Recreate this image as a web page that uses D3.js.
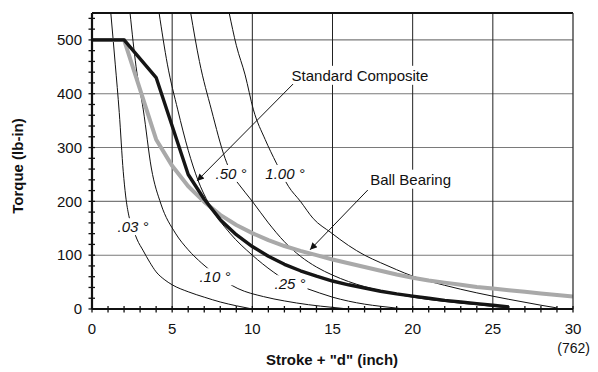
<!DOCTYPE html>
<html><head><meta charset="utf-8">
<script src="https://cdn.jsdelivr.net/npm/d3@7"></script>
<style>body{margin:0;background:#fff} text{font-family:Arial,"Liberation Sans",sans-serif;fill:#111}</style>
</head><body><svg id="c" width="598" height="372"></svg>
<script>
// ---- data ----
const xTicks = [0, 5, 10, 15, 20, 25, 30];
const yTicks = [0, 100, 200, 300, 400, 500];
const xExtraLabel = "(762)";

const compositeX = [0, 2, 4, 6, 7, 8, 9, 10, 11, 12, 13, 14, 15, 16, 17, 18, 19, 20, 21, 22, 23, 24, 25, 26];
const compositeY = [500, 500, 430, 250, 204, 166, 138, 116, 98, 83, 71, 61, 52, 45, 39, 33, 28, 24, 20, 16, 13, 10, 7, 4];

const bearingX = [0, 2, 4, 5, 6, 7, 8, 9, 10, 11, 12, 13, 14, 15, 16, 17, 18, 19, 20, 21, 22, 23, 24, 25, 26, 27, 28, 29, 30];
const bearingY = [500, 500, 315, 266, 228, 199, 175, 156, 141, 128, 117, 108, 100, 92, 85, 78, 71, 64, 58, 53, 49, 45, 41, 38, 35, 32, 29, 26, 23];

const deg03X = [1.17, 1.45, 1.7, 1.95, 2.1, 2.3, 2.55, 2.8, 3.2, 3.6, 4, 4.5, 5, 6, 7, 8, 9, 10];
const deg03Y = [551, 455, 365, 255, 210, 173, 150, 130, 108, 87, 69, 55, 45, 32, 22, 13, 6, 0];
const deg10X = [2.37, 2.75, 3.2, 3.7, 4.3, 5.2, 6, 6.85, 7.8, 9.1, 10.7, 12, 13.5, 15, 16];
const deg10Y = [551, 450, 370, 262, 195, 141, 110, 85, 62, 38, 23, 15, 8, 3, 0];
const deg25X = [4.18, 4.7, 5.35, 6, 6.6, 7.3, 8.6, 10, 11.3, 12.4, 13.4, 15, 17, 18, 19.5];
const deg25Y = [551, 455, 370, 295, 240, 195, 141, 100, 69, 48, 38, 22, 9, 5, 0];
const deg50X = [6.15, 6.7, 7.45, 8.3, 8.7, 9.15, 10, 11, 12, 13, 14, 15, 16, 18, 20, 22, 24, 26];
const deg50Y = [551, 460, 370, 280, 251, 232, 200, 160, 125, 98, 78, 63, 51, 34, 22, 14, 8, 2];
const deg100X = [8.55, 9.0, 9.55, 10.07, 10.8, 11.5, 12.25, 13, 13.8, 14.9, 16, 17, 18, 19, 20, 22, 24, 26, 28, 29];
const deg100Y = [551, 490, 435, 370, 315, 271, 228, 200, 168, 142, 118, 100, 86, 73, 61, 44, 30, 18, 7, 2];

const angleNames = [".03 °", ".10 °", ".25 °", ".50 °", "1.00 °"];
const angleLabelX = [2.56, 7.67, 12.35, 8.67, 12.04];
const angleLabelY = [152, 59, 46, 251, 251];

const seriesNames = ["Standard Composite", "Ball Bearing"];
// ---- drawing ----
const svg = d3.select("#c");
svg.append("rect").attr("width", 598).attr("height", 372).attr("fill", "#fff");
const x = d3.scaleLinear().domain([0, 30]).range([92, 573]);
const y = d3.scaleLinear().domain([0, 550]).range([309, 13]);

const g = svg.append("g");
// horizontal grid
g.selectAll(".hg").data(yTicks.filter(d => d > 0)).join("line")
  .attr("x1", x(0)).attr("x2", x(30)).attr("y1", d => y(d)).attr("y2", d => y(d))
  .attr("stroke", "#7a7a7a").attr("stroke-width", 1.1);
// vertical grid
g.selectAll(".vg").data(xTicks.filter(d => d > 0 && d < 30)).join("line")
  .attr("x1", d => x(d)).attr("x2", d => x(d)).attr("y1", y(0)).attr("y2", y(550))
  .attr("stroke", "#222").attr("stroke-width", 1);

const line = d3.line().x(d => x(d[0])).y(d => y(d[1])).curve(d3.curveLinear);
const smooth = d3.line().x(d => x(d[0])).y(d => y(d[1])).curve(d3.curveMonotoneX);
const zip = (a, b) => a.map((v, i) => [v, b[i]]);

const thin = [zip(deg03X, deg03Y), zip(deg10X, deg10Y), zip(deg25X, deg25Y), zip(deg50X, deg50Y), zip(deg100X, deg100Y)];
const clip = svg.append("clipPath").attr("id", "pc").append("rect")
  .attr("x", x(0)).attr("y", y(550)).attr("width", x(30) - x(0)).attr("height", y(0) - y(550));
const curves = svg.append("g").attr("clip-path", "url(#pc)");
curves.selectAll(".thin").data(thin).join("path")
  .attr("d", d => smooth(d)).attr("fill", "none").attr("stroke", "#111").attr("stroke-width", 1);
curves.append("path").attr("d", line(zip(bearingX, bearingY)))
  .attr("fill", "none").attr("stroke", "#a9a9a9").attr("stroke-width", 4).attr("stroke-linejoin", "round");
curves.append("path").attr("d", line(zip(compositeX, compositeY)))
  .attr("fill", "none").attr("stroke", "#151515").attr("stroke-width", 3.4).attr("stroke-linejoin", "round");

// labels with white backgrounds
function boxedText(parent, tx, ty, str, italic, anchor, padX, padY) {
  const gg = parent.append("g");
  const r = gg.append("rect").attr("fill", "#fff");
  const t = gg.append("text").attr("x", tx).attr("y", ty).text(str)
    .attr("font-size", 15).attr("text-anchor", anchor || "middle")
    .attr("font-style", italic ? "italic" : "normal");
  const b = t.node().getBBox();
  r.attr("x", b.x - padX).attr("y", b.y - padY).attr("width", b.width + 2 * padX).attr("height", b.height + 2 * padY);
  return gg;
}
angleNames.forEach((n, i) => {
  boxedText(svg, x(angleLabelX[i]), y(angleLabelY[i]) + 5, n, true, "middle", 2, 0);
});

// annotations
const defs = svg.append("defs");
defs.append("marker").attr("id", "ah").attr("viewBox", "0 0 10 10").attr("refX", 10).attr("refY", 5)
  .attr("markerWidth", 9).attr("markerHeight", 7).attr("markerUnits", "userSpaceOnUse").attr("orient", "auto")
  .append("path").attr("d", "M0,0 L10,5 L0,10 z").attr("fill", "#111");

boxedText(svg, x(12.45), y(424), seriesNames[0], false, "start", 1, 1);
svg.append("line").attr("x1", x(12.54)).attr("y1", y(418)).attr("x2", x(6.55)).attr("y2", y(238))
  .attr("stroke", "#111").attr("stroke-width", 1).attr("marker-end", "url(#ah)");
boxedText(svg, x(17.35), y(231), seriesNames[1], false, "start", 1, 1);
svg.append("line").attr("x1", x(17.2)).attr("y1", y(221)).attr("x2", x(13.6)).attr("y2", y(110))
  .attr("stroke", "#111").attr("stroke-width", 1).attr("marker-end", "url(#ah)");

// frame
svg.append("line").attr("x1", x(0)).attr("x2", x(30)).attr("y1", y(550)).attr("y2", y(550)).attr("stroke", "#111").attr("stroke-width", 2);
svg.append("line").attr("x1", x(30)).attr("x2", x(30)).attr("y1", y(550)).attr("y2", y(0)).attr("stroke", "#333").attr("stroke-width", 1.3);

// y axis
const yAxis = svg.append("g");
yAxis.append("line").attr("x1", x(0)).attr("x2", x(0)).attr("y1", y(550)).attr("y2", y(0)).attr("stroke", "#111").attr("stroke-width", 2.2);
yAxis.selectAll(".ym").data(d3.range(0, 551, 20)).join("line")
  .attr("x1", x(0) - 3.5).attr("x2", x(0) + 3).attr("y1", d => y(d)).attr("y2", d => y(d))
  .attr("stroke", "#111").attr("stroke-width", 1.3);
yAxis.selectAll(".yl").data(yTicks).join("text")
  .attr("x", x(0) - 10).attr("y", d => y(d)).attr("dy", "0.35em").attr("text-anchor", "end")
  .attr("font-size", 15).text(d => d);

// x axis
const xAxis = svg.append("g");
xAxis.append("line").attr("x1", x(0)).attr("x2", x(30)).attr("y1", y(0)).attr("y2", y(0)).attr("stroke", "#111").attr("stroke-width", 2.2);
xAxis.selectAll(".xm").data(d3.range(0, 31, 1)).join("line")
  .attr("x1", d => x(d)).attr("x2", d => x(d)).attr("y1", y(0) - 3).attr("y2", y(0) + 3.5)
  .attr("stroke", "#111").attr("stroke-width", 1.3);
xAxis.selectAll(".xl").data(xTicks).join("text")
  .attr("x", d => x(d)).attr("y", y(0) + 25).attr("text-anchor", "middle")
  .attr("font-size", 15).text(d => d);
xAxis.append("text").attr("x", x(30) + 17).attr("y", y(0) + 44).attr("text-anchor", "end")
  .attr("font-size", 14).text(xExtraLabel);

svg.append("text").attr("x", 332).attr("y", 365).attr("text-anchor", "middle")
  .attr("font-size", 15).attr("font-weight", "bold").text('Stroke + "d" (inch)');
svg.append("text").attr("transform", "translate(23,166) rotate(-90)").attr("text-anchor", "middle")
  .attr("font-size", 15).attr("font-weight", "bold").text("Torque (lb-in)");
</script></body></html>
